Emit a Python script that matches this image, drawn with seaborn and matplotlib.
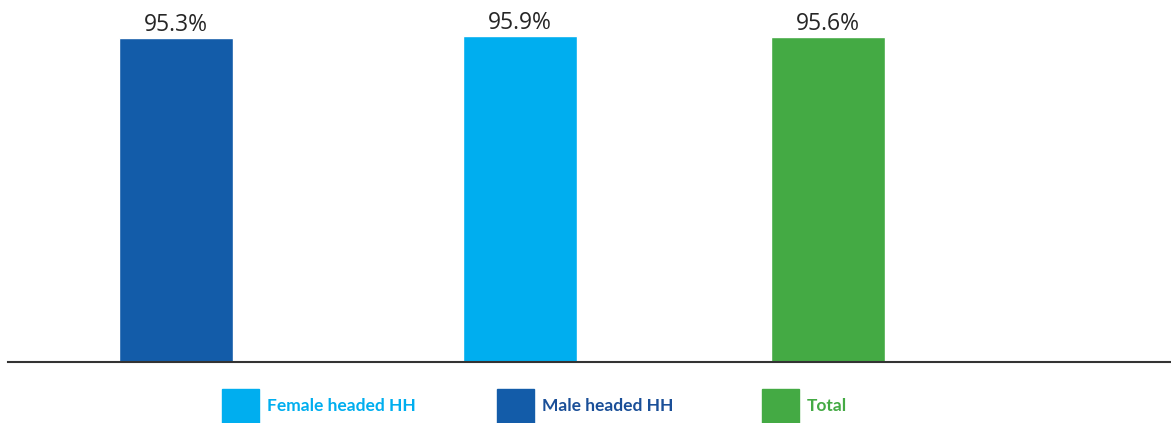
import matplotlib
matplotlib.use("Agg")
import matplotlib.pyplot as plt
import seaborn as sns
from matplotlib.patches import Patch

# data
categories = ["Male headed HH", "Female headed HH", "Total"]
values = [95.3, 95.9, 95.6]
legend_order = ["Female headed HH", "Male headed HH", "Total"]

# layout / style (pixel units of the 1171 px wide figure)
bar_pos = [176, 520, 828]
legend_x = [222, 497, 762]
colors = {"Male headed HH": "#135CA9", "Female headed HH": "#00AEEF", "Total": "#44AA44"}
text_colors = {"Male headed HH": "#1A4F98", "Female headed HH": "#00AEEF", "Total": "#44AA44"}

sns.set_style("white")
plt.rcParams["font.family"] = ["Open Sans", "DejaVu Sans"]

W, H = 1171, 423
fig = plt.figure(figsize=(W / 100, H / 100), dpi=100)
ax = fig.add_axes([8 / W, 1 - 362 / H, 1 - 8 / W, 362 / H])

sns.barplot(x=bar_pos, y=values, hue=categories, palette=colors, native_scale=True,
            width=114 / 308, dodge=False, legend=False, saturation=1, ax=ax)

for c in ax.containers:
    ax.bar_label(c, fmt="%.1f%%", padding=1, fontsize=16.5, color="#262626")

ax.set_xlim(8, W)
ax.set_ylim(0, 95.6 * 362 / 325)
ax.set_xticks([])
ax.set_yticks([])
ax.set_xlabel("")
ax.set_ylabel("")
for s in ["top", "left", "right"]:
    ax.spines[s].set_visible(False)
ax.spines["bottom"].set_color("#333333")
ax.spines["bottom"].set_linewidth(1.5)

# legend, one entry each so they can be spaced like the original
for name, xl in zip(legend_order, legend_x):
    leg = fig.legend(handles=[Patch(color=colors[name], label=name)],
                     loc="center left", bbox_to_anchor=(xl / W, 17 / H),
                     frameon=False, borderpad=0, borderaxespad=0,
                     handlelength=2.15, handleheight=2.6, handletextpad=0.45,
                     prop={"family": "Lato", "weight": "bold", "size": 12.5})
    for t in leg.get_texts():
        t.set_color(text_colors[name])

fig.savefig("out.png", dpi=100)
